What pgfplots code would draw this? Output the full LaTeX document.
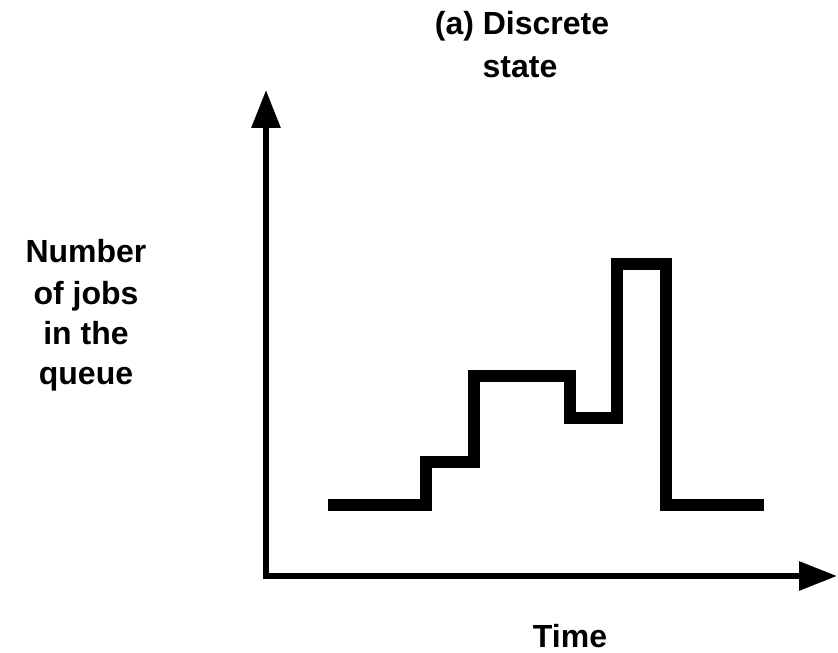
\documentclass[border=0pt]{standalone}
\usepackage{fontspec}
\setmainfont{Liberation Sans}
\usepackage{pgfplots}
\pgfplotsset{compat=1.18}
\usetikzlibrary{arrows.meta}
\begin{document}
\begin{tikzpicture}
\path[use as bounding box] (-133pt,-38pt) rectangle (286pt,288pt);
\begin{axis}[
  at={(0pt,0pt)}, anchor=south west,
  x=0.5pt, y=0.5pt,
  xmin=0, xmax=571, ymin=0, ymax=486,
  enlargelimits=false,
  axis lines=left,
  axis line style={line width=3pt, line cap=rect, -{Triangle[length=19pt,width=14pt]}},
  ticks=none,
  clip=false,
]
\addplot[black, line width=6pt, line join=miter, line cap=butt, mark=none] coordinates {
  (62,71) (160,71) (160,114) (208,114) (208,200) (304,200)
  (304,158) (351,158) (351,312) (400,312) (400,71) (498,71)
};
\tikzset{lbl/.style={font=\bfseries\fontsize{16}{19}\selectfont, inner sep=0pt, anchor=base}}
\node[lbl] at (axis cs:256,541) {(a) Discrete};
\node[lbl] at (axis cs:254,498) {state};
\node[lbl] at (axis cs:-180,313) {Number};
\node[lbl] at (axis cs:-180,271) {of jobs};
\node[lbl] at (axis cs:-180,231) {in the};
\node[lbl] at (axis cs:-180,191) {queue};
\node[lbl] at (axis cs:304,-71) {Time};
\end{axis}
\end{tikzpicture}
\end{document}
